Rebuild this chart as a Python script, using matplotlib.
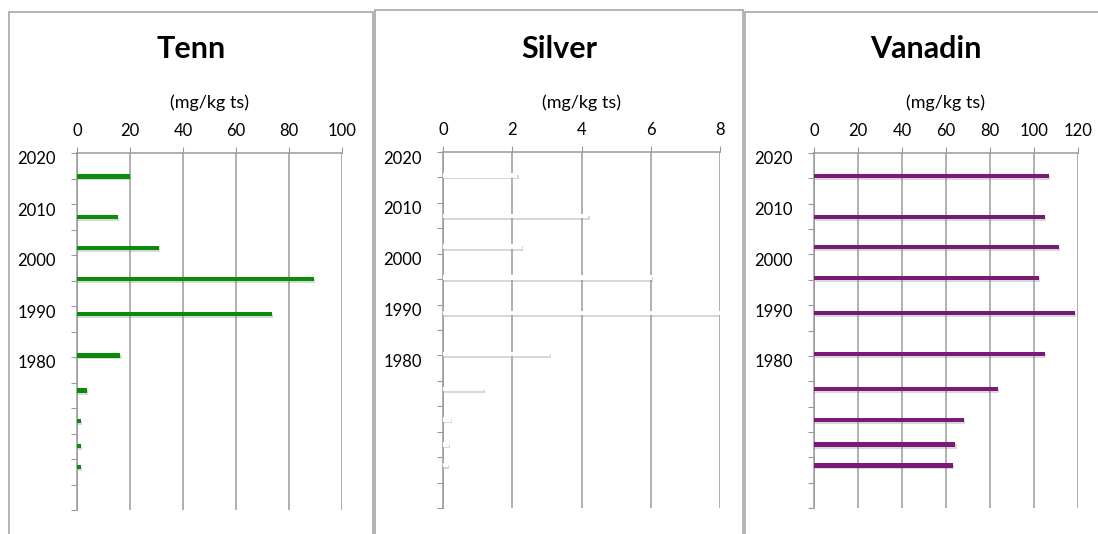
import numpy as np
import matplotlib
matplotlib.use("Agg")
import matplotlib.pyplot as plt
import matplotlib.patheffects as pe
import matplotlib.transforms as mtransforms
from matplotlib.patches import Rectangle

plt.rcParams['font.family'] = ['Lato', 'DejaVu Sans']

# sample years (sediment layers)
years = [2015.4, 2007.4, 2001.4, 1995.3, 1988.4, 1980.3, 1973.4, 1967.4, 1962.5, 1958.4]

tenn = [20.1, 15.4, 30.9, 89.5, 73.5, 16.4, 3.7, 1.4, 1.4, 1.4]
silver = [2.15, 4.2, 2.29, 6.04, 8.0, 3.1, 1.18, 0.22, 0.18, 0.14]
vanadin = [106.8, 104.9, 111.2, 102.3, 118.5, 104.9, 83.7, 68.3, 64.3, 63.1]

titles = ["Tenn", "Silver", "Vanadin"]
unit = "(mg/kg ts)"
year_labels = [1980, 1990, 2000, 2010, 2020]

W, H = 1098, 534
fig = plt.figure(figsize=(W / 100, H / 100), dpi=100)

GRID = "#9a9a9a"

# pixel layout: (frame x0, frame x1, frame top, axes x0, axes x1, axes top, axes bottom)
panels = [
    (9, 373, 12, 77, 342, 153, 510),
    (375, 743, 10, 443, 720, 152, 508),
    (745, 1107, 12, 814, 1078, 153, 508),
]
series = [tenn, silver, vanadin]
xmax = [100, 8, 120]
xstep = [20, 2, 20]
colors = ["#0a8c0a", "white", "#7b1a76"]


def fx(px):
    return px / W


def fy(py):
    return 1 - py / H


for i in range(3):
    fx0, fx1, ftop, ax0, ax1, atop, abot = panels[i]

    # panel frame
    fig.patches.append(Rectangle((fx(fx0), fy(600)), fx(fx1) - fx(fx0), fy(ftop) - fy(600),
                                 transform=fig.transFigure, fill=False,
                                 edgecolor="#a6a6a6", lw=1.2, zorder=0))

    ax = fig.add_axes([fx(ax0), fy(abot), fx(ax1) - fx(ax0), fy(atop) - fy(abot)])
    shadow = [pe.SimplePatchShadow(offset=(0.8, -1.3), shadow_rgbFace="#909090", alpha=0.35), pe.Normal()]
    ax.barh(years, series[i], height=0.85, color=colors[i], zorder=3, path_effects=shadow)

    ax.set_xlim(0, xmax[i])
    ax.set_ylim(1950, 2020)
    ax.set_xticks(np.arange(0, xmax[i] + 0.1, xstep[i]))
    ax.set_yticks(np.arange(1950, 2021, 5))
    ax.set_yticklabels([str(y) if y in year_labels else "" for y in range(1950, 2021, 5)])

    ax.xaxis.tick_top()
    ax.grid(axis="x", color=GRID, lw=1.1, zorder=1)
    for s in ["right", "bottom"]:
        ax.spines[s].set_visible(False)
    for s in ["left", "top"]:
        ax.spines[s].set_color(GRID)
        ax.spines[s].set_linewidth(1.1)
    ax.tick_params(axis="x", colors=GRID, labelcolor="black", length=4, pad=6, labelsize=12)
    ax.tick_params(axis="y", colors=GRID, labelcolor="black", length=4, pad=11, labelsize=12)
    off = mtransforms.ScaledTranslation(0, -5 / 100, fig.dpi_scale_trans)
    for lab in ax.get_yticklabels():
        lab.set_transform(lab.get_transform() + off)

    fig.text(fx((fx0 + fx1) / 2), fy(49), titles[i], ha="center", va="center",
             fontsize=22, fontweight="bold")
    fig.text(fx((ax0 + ax1) / 2), fy(103), unit, ha="center", va="center", fontsize=13)

fig.savefig("out.png", dpi=100)
